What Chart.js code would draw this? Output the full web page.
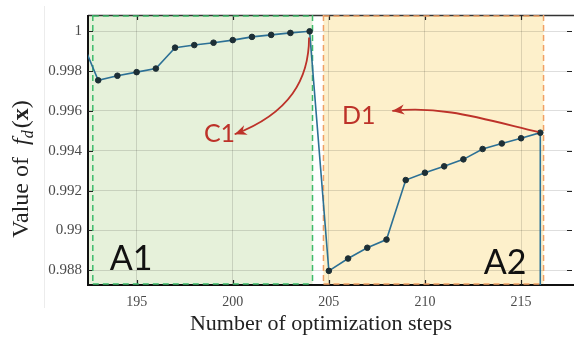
<!DOCTYPE html>
<html>
<head>
<meta charset="utf-8">
<script src="https://cdn.jsdelivr.net/npm/chart.js@4.4.1/dist/chart.umd.min.js"></script>
<style>
  html, body { margin: 0; padding: 0; background: #ffffff; }
  #wrap { width: 574px; height: 341px; }
</style>
</head>
<body>
<div id="wrap"><canvas id="c" width="574" height="341"></canvas></div>
<script>
// ---- data ----
const steps  = [192, 193, 194, 195, 196, 197, 198, 199, 200, 201, 202, 203, 204,
                205, 206, 207, 208, 209, 210, 211, 212, 213, 214, 215, 216, 216];
const values = [0.99985, 0.99754, 0.99777, 0.99795, 0.99813, 0.99918, 0.99931, 0.99943,
                0.99956, 0.99972, 0.99982, 0.99992, 1.00000,
                0.98797, 0.98859, 0.98913, 0.98954, 0.99253, 0.99290, 0.99322,
                0.99357, 0.99409, 0.99437, 0.99463, 0.99491, 0.98500];
const markerShown = [0, 1, 1, 1, 1, 1, 1, 1, 1, 1, 1, 1, 1,
                     1, 1, 1, 1, 1, 1, 1, 1, 1, 1, 1, 1, 0];
const xTicks = [195, 200, 205, 210, 215];
const yTicks = [0.988, 0.99, 0.992, 0.994, 0.996, 0.998, 1];
const xRange = [192.47, 217.65];
const yRange = [0.98726, 1.00082];
const regionA1 = [192.72, 204.15];
const regionA2 = [204.72, 216.17];
const regionLabels = ['A1', 'A2'];
const arrowLabels = ['C1', 'D1'];
const xTitle = 'Number of optimization steps';

const SERIF = '"Liberation Serif", "DejaVu Serif", serif';
const SANS = 'Lato, "Open Sans", sans-serif';
const RED = '#bd3229';

function fmt(v) { return String(Number(v.toFixed(3))); }

function cubic(ctx, xs, ys, pts, color) {
  const p = pts.map(q => [xs.getPixelForValue(q[0]), ys.getPixelForValue(q[1])]);
  ctx.save();
  ctx.strokeStyle = color; ctx.lineWidth = 1.8;
  ctx.beginPath();
  ctx.moveTo(p[0][0], p[0][1]);
  ctx.bezierCurveTo(p[1][0], p[1][1], p[2][0], p[2][1], p[3][0], p[3][1]);
  ctx.stroke();
  const ang = Math.atan2(p[3][1] - p[2][1], p[3][0] - p[2][0]);
  const L = 12, W = 5;
  const tx = p[3][0], ty = p[3][1];
  ctx.fillStyle = color;
  ctx.beginPath();
  ctx.moveTo(tx, ty);
  ctx.lineTo(tx - L * Math.cos(ang) + W * Math.sin(ang), ty - L * Math.sin(ang) - W * Math.cos(ang));
  ctx.lineTo(tx - L * 0.7 * Math.cos(ang), ty - L * 0.7 * Math.sin(ang));
  ctx.lineTo(tx - L * Math.cos(ang) - W * Math.sin(ang), ty - L * Math.sin(ang) + W * Math.cos(ang));
  ctx.closePath();
  ctx.fill();
  ctx.restore();
}

const decor = {
  id: 'decor',
  beforeDraw(chart) {
    const { ctx, chartArea: a, scales: { x, y } } = chart;
    ctx.save();
    ctx.strokeStyle = '#ececec'; ctx.lineWidth = 1;
    ctx.beginPath(); ctx.moveTo(a.left - 43.5, 6); ctx.lineTo(a.left - 43.5, 308); ctx.stroke();
    ctx.fillStyle = '#e6f1da';
    ctx.fillRect(a.left, a.top, x.getPixelForValue(regionA1[1]) - a.left, a.bottom - a.top);
    ctx.fillStyle = '#fdf0cb';
    const x2a = x.getPixelForValue(regionA2[0]), x2b = x.getPixelForValue(regionA2[1]);
    ctx.fillRect(x2a, a.top, x2b - x2a, a.bottom - a.top);
    ctx.restore();
  },
  beforeDatasetsDraw(chart) {
    const { ctx, chartArea: a, scales: { x, y } } = chart;
    ctx.save();
    ctx.strokeStyle = '#333'; ctx.lineWidth = 1.5;
    ctx.beginPath(); ctx.moveTo(a.left, a.top + 0.5); ctx.lineTo(a.right + 4, a.top + 0.5); ctx.stroke();
    ctx.strokeStyle = '#111'; ctx.lineWidth = 2;
    ctx.beginPath(); ctx.moveTo(a.left, a.top); ctx.lineTo(a.left, a.bottom); ctx.lineTo(a.right + 4, a.bottom); ctx.stroke();
    ctx.strokeStyle = '#222'; ctx.lineWidth = 1.2;
    ctx.beginPath();
    yTicks.forEach(v => {
      const py = Math.round(y.getPixelForValue(v)) + 0.5;
      ctx.moveTo(a.left, py); ctx.lineTo(a.left + 5, py);
      ctx.moveTo(a.right, py); ctx.lineTo(a.right - 5, py);
    });
    xTicks.forEach(v => {
      const px = Math.round(x.getPixelForValue(v)) + 0.5;
      ctx.moveTo(px, a.bottom); ctx.lineTo(px, a.bottom - 5);
      ctx.moveTo(px, a.top); ctx.lineTo(px, a.top + 5);
    });
    ctx.stroke();
    ctx.setLineDash([6, 4]);
    ctx.lineWidth = 1.5;
    [[regionA1, '#3dbb6a'], [regionA2, '#f0a064']].forEach(([r, col]) => {
      const l = x.getPixelForValue(r[0]), rr = x.getPixelForValue(r[1]);
      ctx.strokeStyle = col;
      ctx.beginPath();
      ctx.moveTo(l, a.top + 1); ctx.lineTo(rr, a.top + 1);
      ctx.moveTo(l, a.bottom - 1); ctx.lineTo(rr, a.bottom - 1);
      ctx.moveTo(l, a.top); ctx.lineTo(l, a.bottom);
      ctx.moveTo(rr, a.top); ctx.lineTo(rr, a.bottom);
      ctx.stroke();
    });
    ctx.restore();
  },
  afterDatasetsDraw(chart) {
    const { ctx, chartArea: a, scales: { x, y } } = chart;
    cubic(ctx, x, y, [[203.97, 0.99969], [203.97, 0.99761], [202.98, 0.99589], [200.1, 0.99483]], RED);
    cubic(ctx, x, y, [[215.89, 0.99495], [212.87, 0.99564], [210.79, 0.99628], [208.3, 0.99600]], RED);
    ctx.save();
    ctx.textAlign = 'center'; ctx.textBaseline = 'middle';
    ctx.fillStyle = RED;
    ctx.font = '25px ' + SANS;
    ctx.fillText(arrowLabels[0], x.getPixelForValue(199.31), y.getPixelForValue(0.99485));
    ctx.fillText(arrowLabels[1], x.getPixelForValue(206.55), y.getPixelForValue(0.99574));
    ctx.fillStyle = '#111';
    ctx.font = '34px ' + SANS;
    ctx.fillText(regionLabels[0], x.getPixelForValue(194.71), y.getPixelForValue(0.98854));
    ctx.fillText(regionLabels[1], x.getPixelForValue(214.17), y.getPixelForValue(0.98837));
    ctx.restore();
  },
  afterDraw(chart) {
    const { ctx, chartArea: a } = chart;
    ctx.save();
    ctx.fillStyle = '#222';
    ctx.font = '22px ' + SERIF;
    ctx.textAlign = 'center'; ctx.textBaseline = 'alphabetic';
    ctx.fillText(xTitle, a.left + 233, 330);
    const parts = [
      ['Value of  ', 'normal 24px ' + SERIF, 0],
      ['f', 'italic 24px ' + SERIF, 0],
      ['d', 'italic 16px ' + SERIF, 5],
      ['(', 'normal 24px ' + SERIF, 0],
      ['x', 'bold 24px ' + SERIF, 0],
      [')', 'normal 24px ' + SERIF, 0]
    ];
    let total = 0;
    parts.forEach(p => { ctx.font = p[1]; total += ctx.measureText(p[0]).width + (p[0] === 'd' ? 2 : 0); });
    ctx.translate(28, 169);
    ctx.rotate(-Math.PI / 2);
    ctx.textAlign = 'left';
    let cx = -total / 2;
    parts.forEach(p => {
      ctx.font = p[1];
      ctx.fillText(p[0], cx, p[2]);
      cx += ctx.measureText(p[0]).width + (p[0] === 'd' ? 2 : 0);
    });
    ctx.restore();
  }
};

const pts = steps.map((s, i) => ({ x: s, y: values[i] }));

new Chart(document.getElementById('c'), {
  type: 'line',
  data: {
    datasets: [{
      data: pts,
      borderColor: '#2c7095',
      borderWidth: 1.6,
      pointRadius: markerShown.map(m => m ? 2.8 : 0),
      pointBackgroundColor: '#1d2f36',
      pointBorderColor: '#1d2f36',
      pointBorderWidth: 1,
      tension: 0,
      fill: false
    }]
  },
  options: {
    responsive: false,
    animation: false,
    devicePixelRatio: 1,
    layout: { padding: { left: 0, top: 10, right: 2, bottom: 0 } },
    plugins: { legend: { display: false }, tooltip: { enabled: false }, title: { display: false } },
    scales: {
      x: {
        type: 'linear',
        min: xRange[0], max: xRange[1],
        afterBuildTicks: s => { s.ticks = xTicks.map(v => ({ value: v })); },
        afterFit: s => { s.height = 56; },
        grid: { color: 'rgba(0,0,0,0.13)', lineWidth: 1, drawTicks: false },
        border: { display: false },
        ticks: {
          padding: 9, color: '#4a4a4a', maxRotation: 0,
          font: { family: SERIF, size: 14 },
          callback: v => fmt(v)
        }
      },
      y: {
        type: 'linear',
        min: yRange[0], max: yRange[1],
        afterBuildTicks: s => { s.ticks = yTicks.map(v => ({ value: v })); },
        afterFit: s => { s.width = 88; },
        grid: { color: 'rgba(0,0,0,0.13)', lineWidth: 1, drawTicks: false },
        border: { display: false },
        ticks: {
          padding: 6, color: '#4a4a4a',
          font: { family: SERIF, size: 15 },
          callback: v => fmt(v)
        }
      }
    }
  },
  plugins: [decor]
});
</script>
</body>
</html>
